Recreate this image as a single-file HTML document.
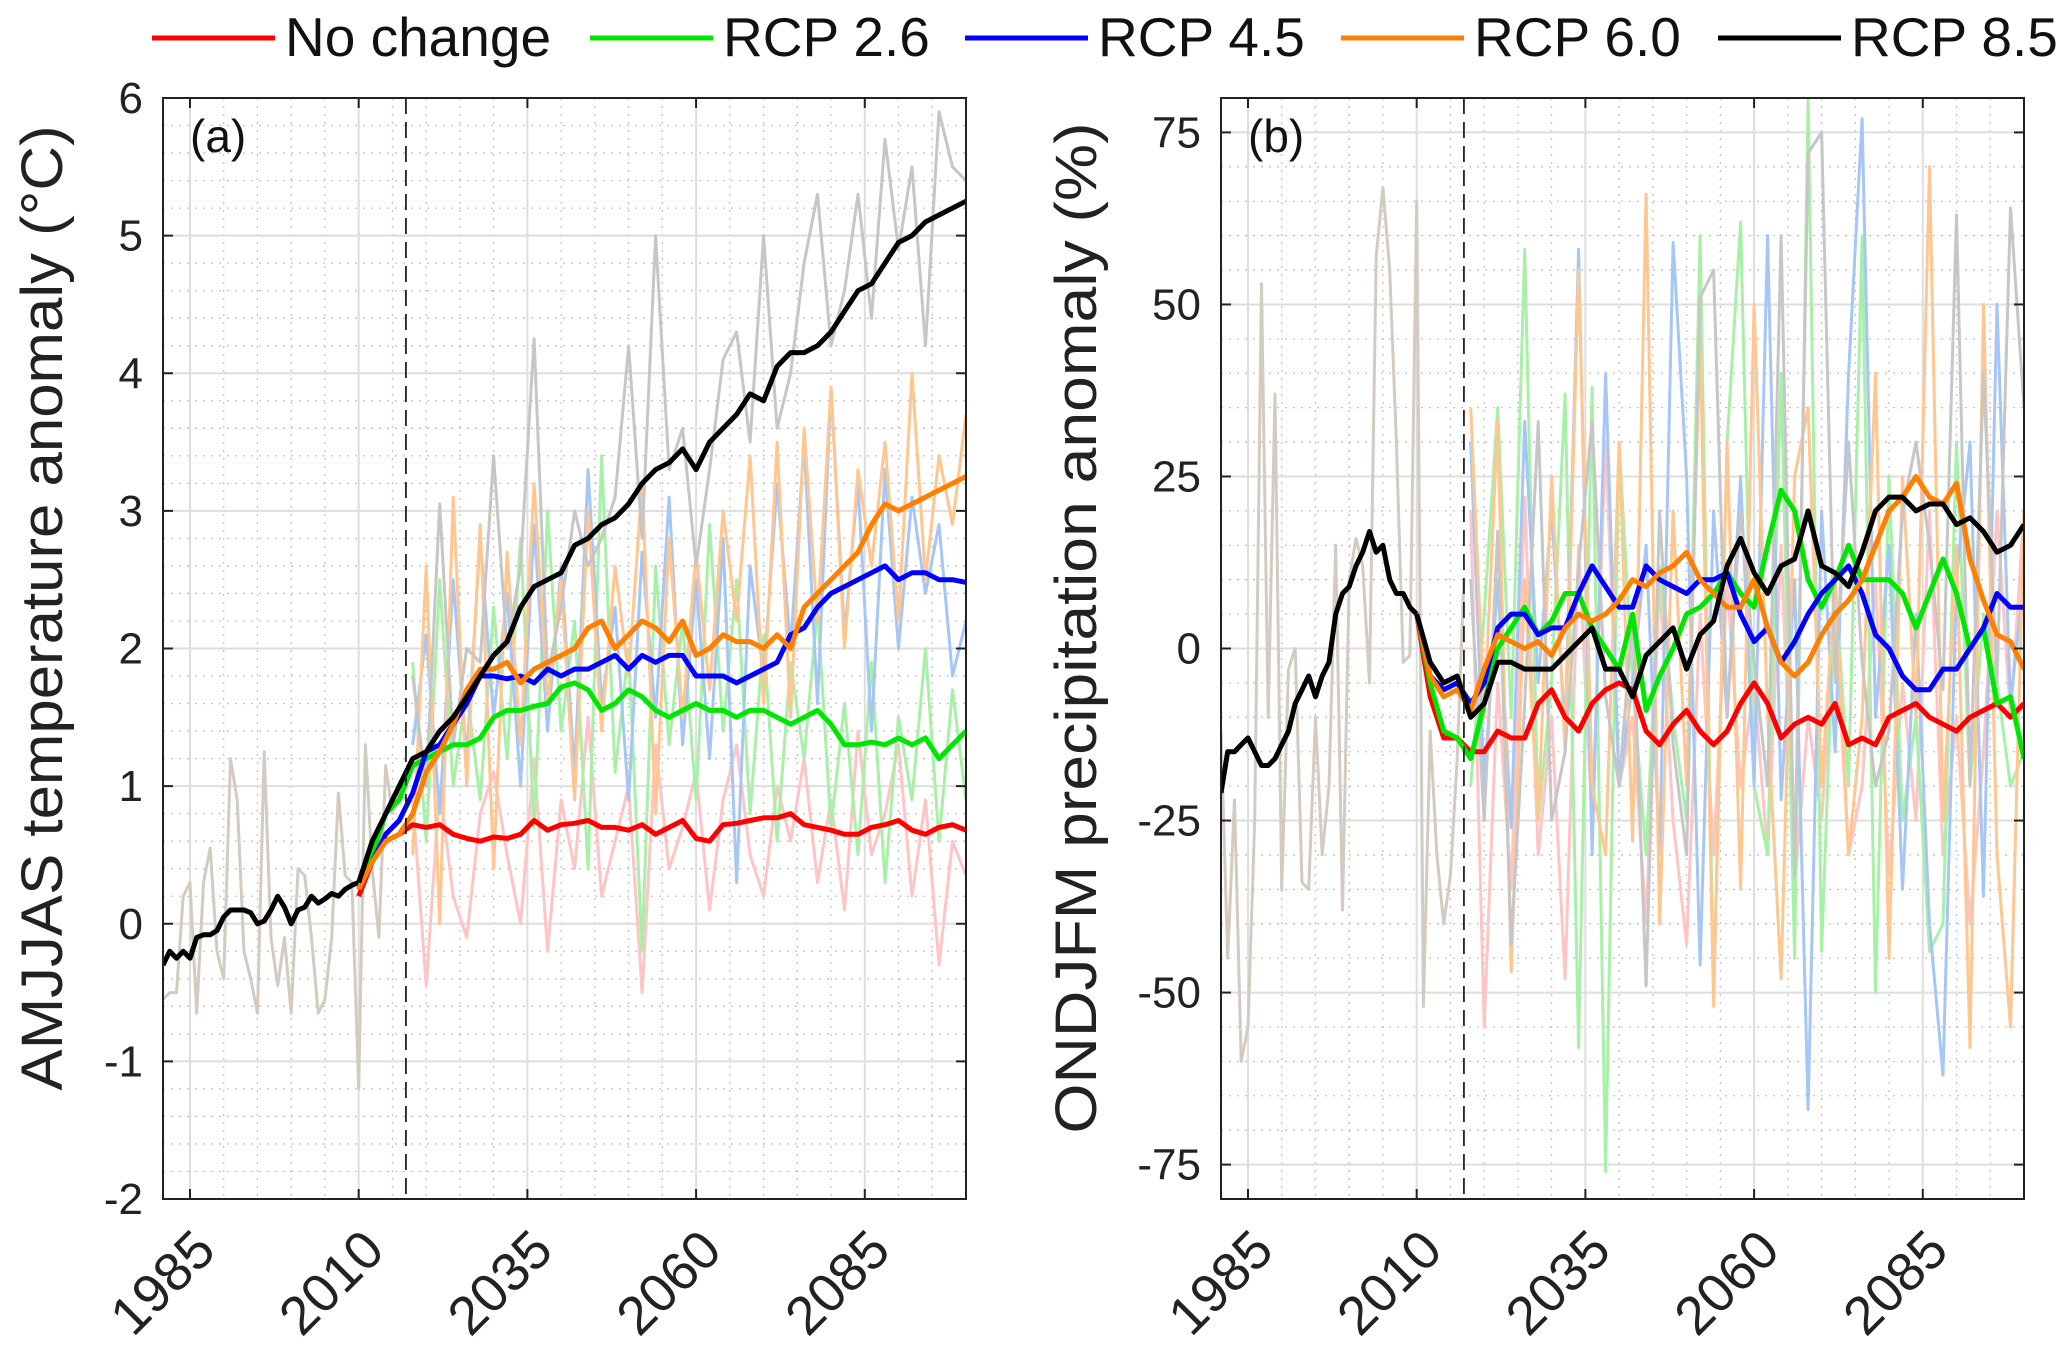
<!DOCTYPE html>
<html><head><meta charset="utf-8"><style>
html,body{margin:0;padding:0;background:#fff;}
svg{display:block;font-family:"Liberation Sans",Arial,sans-serif;}
</style></head><body>
<svg id="fig" width="2067" height="1359" viewBox="0 0 2067 1359" xmlns="http://www.w3.org/2000/svg">
<defs>
<clipPath id="clipA"><rect x="163" y="98" width="803" height="1101"/></clipPath>
<clipPath id="clipB"><rect x="1221" y="98" width="803" height="1101"/></clipPath>
</defs>
<g id="legend"></g>
<g id="panelA"></g>
<g id="panelB"></g>
</svg>
<script>
// ---------- data ----------
const histA_obs = [-0.55,-0.5,-0.5,0.2,0.3,-0.65,0.3,0.55,-0.2,-0.4,1.2,0.9,-0.2,-0.4,-0.65,1.25,-0.1,-0.45,-0.1,-0.65,0.4,0.35,-0.1,-0.65,-0.55,-0.1,0.95,0.35,0.3,-1.2,1.3,0.4,-0.1,1.15,0.8,0.95,0.9];
const histA_smooth = [-0.3,-0.2,-0.25,-0.2,-0.25,-0.1,-0.08,-0.08,-0.05,0.05,0.1,0.1,0.1,0.08,0.0,0.02,0.1,0.2,0.12,0.0,0.1,0.12,0.2,0.15,0.18,0.22,0.2,0.25,0.28,0.3];
const faintStart = 2018, faintStep = 2;
const faintA_red = [0.9,-0.45,1.0,0.2,-0.1,0.8,1.1,0.5,0.0,1.2,-0.2,0.9,0.4,1.5,0.2,0.6,1.0,-0.5,1.3,0.4,0.7,1.1,0.1,0.9,1.3,0.5,0.2,1.0,0.6,1.2,0.3,0.9,0.1,1.4,0.5,0.8,1.3,0.2,0.9,-0.3,0.6,0.35];
const faintA_green = [1.9,0.6,2.5,1.0,1.7,0.9,2.3,1.2,2.8,0.7,3.0,1.4,2.2,0.4,3.4,1.1,2.0,-0.2,2.6,1.3,2.2,0.9,2.9,1.4,2.5,0.8,2.1,0.6,1.9,1.2,2.3,0.7,1.6,0.5,1.9,0.3,1.5,0.9,2.0,0.6,1.7,0.9];
const faintA_blue = [1.3,2.1,0.8,2.5,1.2,2.8,1.5,2.4,1.0,2.9,1.4,2.6,1.1,3.3,1.6,2.3,0.9,2.7,1.5,3.1,1.3,2.5,1.2,2.8,0.3,2.6,1.8,3.2,2.0,3.5,1.6,3.9,2.1,3.2,1.4,3.3,2.0,3.1,2.4,2.9,1.8,2.2];
const faintA_orange = [0.5,2.6,0.0,3.1,1.0,2.9,0.4,2.7,1.3,3.2,1.6,2.5,0.9,3.0,1.4,2.6,1.8,3.2,0.8,2.8,1.5,2.7,1.7,3.0,2.2,3.4,1.6,3.5,1.5,3.6,2.2,3.9,2.0,3.3,2.6,3.5,2.2,4.0,2.5,3.4,2.9,3.7];
const faintA_gray = [1.8,1.0,3.05,1.3,2.0,1.9,3.4,2.0,2.6,4.25,1.8,2.3,3.0,2.6,2.8,3.1,4.2,2.8,5.0,3.3,3.6,2.6,3.3,4.1,4.3,3.5,5.0,3.6,4.0,4.8,5.3,4.2,4.6,5.3,4.4,5.7,4.9,5.5,4.2,5.9,5.5,5.4];
const projStart = 2010, projStep = 2;
const projA_red = [0.2,0.45,0.6,0.65,0.72,0.7,0.72,0.65,0.62,0.6,0.63,0.62,0.65,0.75,0.68,0.72,0.73,0.75,0.7,0.7,0.68,0.72,0.65,0.7,0.75,0.62,0.6,0.72,0.73,0.75,0.77,0.77,0.8,0.72,0.7,0.68,0.65,0.65,0.7,0.72,0.75,0.68,0.65,0.7,0.72,0.68];
const projA_green = [0.25,0.5,0.8,0.9,1.15,1.2,1.25,1.3,1.3,1.35,1.5,1.55,1.55,1.58,1.6,1.72,1.75,1.7,1.55,1.6,1.7,1.65,1.55,1.5,1.55,1.6,1.55,1.55,1.5,1.55,1.55,1.5,1.45,1.5,1.55,1.45,1.3,1.3,1.32,1.3,1.35,1.3,1.35,1.2,1.3,1.4];
const projA_blue = [0.25,0.45,0.65,0.75,0.95,1.25,1.3,1.45,1.6,1.8,1.8,1.78,1.8,1.75,1.85,1.8,1.85,1.85,1.9,1.95,1.85,1.95,1.9,1.95,1.95,1.8,1.8,1.8,1.75,1.8,1.85,1.9,2.1,2.15,2.3,2.4,2.45,2.5,2.55,2.6,2.5,2.55,2.55,2.5,2.5,2.48];
const projA_orange = [0.25,0.45,0.6,0.65,0.8,1.1,1.25,1.45,1.7,1.85,1.85,1.9,1.75,1.85,1.9,1.95,2.0,2.15,2.2,2.0,2.1,2.2,2.15,2.05,2.2,1.95,2.0,2.1,2.05,2.05,2.0,2.1,2.0,2.3,2.4,2.5,2.6,2.7,2.9,3.05,3.0,3.05,3.1,3.15,3.2,3.25];
const projA_black = [0.3,0.6,0.8,1.0,1.2,1.25,1.4,1.5,1.65,1.8,1.95,2.05,2.3,2.45,2.5,2.55,2.75,2.8,2.9,2.95,3.05,3.2,3.3,3.35,3.45,3.3,3.5,3.6,3.7,3.85,3.8,4.05,4.15,4.15,4.2,4.3,4.45,4.6,4.65,4.8,4.95,5.0,5.1,5.15,5.2,5.25];

const histB_obs = [-12,-45,-22,-60,-55,-25,53,-10,37,-35,-3,0,-34,-35,-10,-30,-20,15,-38,10,16,12,-5,57,67,55,30,-2,-1,65,-52,-12,-30,-40,-33,-16,10];
const histB_smooth = [-21,-15,-15,-14,-13,-15,-17,-17,-16,-14,-12,-8,-6,-4,-7,-4,-2,5,8,9,12,14,17,14,15,10,8,8,6,5];
const faintB_red = [20,-55,-5,-35,22,-30,-10,-48,15,-25,30,-20,-10,-40,10,-25,-43,5,-30,10,-20,-5,-30,15,-35,-10,-25,5,-30,-20,10,-33,-5,-25,20,-30,-10,-40,-15,20,-10,20];
const faintB_green = [-20,5,35,-10,58,-25,-5,37,-58,38,-76,30,-5,-30,12,-10,-25,60,-50,30,62,-20,-30,40,-45,80,-44,10,-20,60,-50,25,-25,-10,-44,-40,30,-20,5,-5,-20,-15];
const faintB_blue = [30,-20,10,-26,33,-5,20,-12,58,-30,40,-20,-5,15,-30,59,25,-46,20,-10,25,-20,60,-22,10,-67,20,-15,40,77,-10,15,-35,5,-40,-62,10,30,-36,50,-8,10];
const faintB_orange = [35,-10,33,-47,10,-25,25,-15,55,-20,-30,30,-28,66,-40,20,-20,45,-52,30,-35,50,-10,-48,25,35,-20,10,-30,-10,40,-45,25,-10,70,-25,15,-58,50,-30,-55,20];
const faintB_gray = [10,-25,17,-43,-8,33,-25,-15,12,33,-7,-20,5,-49,20,-14,-30,51,55,-10,20,-2,-20,60,-33,72,75,-5,30,-2,-20,-12,20,30,15,-6,63,-20,40,-5,64,35];
const projB_red = [5,-7,-13,-13,-15,-15,-12,-13,-13,-8,-6,-10,-12,-8,-6,-5,-6,-12,-14,-11,-9,-12,-14,-12,-8,-5,-8,-13,-11,-10,-11,-8,-14,-13,-14,-10,-9,-8,-10,-11,-12,-10,-9,-8,-10,-8];
const projB_green = [5,-5,-12,-13,-16,-8,0,3,6,2,4,8,8,3,0,-3,5,-9,-4,0,5,6,8,11,8,6,15,23,20,10,6,10,15,10,10,10,8,3,8,13,8,0,3,-8,-7,-16];
const projB_blue = [5,-4,-6,-5,-8,-5,3,5,5,2,3,3,8,12,9,6,6,12,10,9,8,10,10,11,5,1,3,-2,1,5,8,10,12,8,2,0,-4,-6,-6,-3,-3,0,3,8,6,6];
const projB_orange = [5,-4,-7,-6,-9,-3,2,1,0,1,-1,3,5,4,5,7,10,9,11,12,14,10,8,6,6,10,3,-2,-4,-2,2,5,7,10,15,20,22,25,22,21,24,13,7,2,1,-3];
const projB_black = [5,-2,-5,-4,-10,-8,-2,-2,-3,-3,-3,-1,1,3,-3,-3,-7,-1,1,3,-3,2,4,12,16,11,8,12,13,20,12,11,9,14,20,22,22,20,21,21,18,19,17,14,15,18];

const xTicks = [1985,2010,2035,2060,2085];
const yTicksA = [-2,-1,0,1,2,3,4,5,6];
const yTicksB = [-75,-50,-25,0,25,50,75];
const legendLabels = ["No change","RCP 2.6","RCP 4.5","RCP 6.0","RCP 8.5"];
const legendColors = ["#ff0000","#00e600","#0000ff","#ff7f00","#000000"];
const legendX = [152,590,965,1341,1718];

// ---------- helpers ----------
const NS = "http://www.w3.org/2000/svg";
function mk(tag, attrs, parent){ const e=document.createElementNS(NS,tag); for(const k in attrs) e.setAttribute(k,attrs[k]); if(parent) parent.appendChild(e); return e; }

function drawPanel(g, cfg){
  const L=cfg.left, R=cfg.left+803, T=98, B=1199;
  const xs = yr => L + (yr-1981)*(R-L)/(2100-1981);
  const ys = v => B - (v-cfg.ymin)*(B-T)/(cfg.ymax-cfg.ymin);
  for(let yr=1985; yr<=2100; yr+=5){
    if(xTicks.includes(yr)) continue;
    const l=mk('line',{x1:xs(yr),x2:xs(yr),y1:T,y2:B,stroke:'#c4c4c4','stroke-width':1.3,'stroke-dasharray':'2,6'},g);
    
    
  }
  for(let v=cfg.ymin; v<=cfg.ymax+1e-9; v+=cfg.minor){
    const vv=Math.round(v*100)/100;
    if(cfg.yTicks.includes(vv)) continue;
    const l=mk('line',{x1:L,x2:R,y1:ys(vv),y2:ys(vv),stroke:'#c4c4c4','stroke-width':1.3,'stroke-dasharray':'2,6'},g);
    
    
  }
  xTicks.forEach(yr=>{
    const l=mk('line',{x1:xs(yr),x2:xs(yr),y1:T,y2:B,stroke:'#dedede','stroke-width':2},g);
    
    
  });
  cfg.yTicks.forEach(v=>{
    const l=mk('line',{x1:L,x2:R,y1:ys(v),y2:ys(v),stroke:'#dedede','stroke-width':2},g);
    
    
  });
  const clip = mk('g',{'clip-path':'url(#'+cfg.clip+')'},g);
  function line(start, step, vals, color, w, name){
    const d = vals.map((v,i)=>(i?'L':'M')+xs(start+i*step).toFixed(1)+','+ys(v).toFixed(1)).join(' ');
    const p=mk('path',{d:d,fill:'none',stroke:color,'stroke-width':w,'stroke-linejoin':'round'},clip);
    
    
  }
  line(1981,1,cfg.histObs,'#d3cbc0',3,'observed-annual');
  line(faintStart,faintStep,cfg.fr,'#ffc4c4',3,'no-change-annual');
  line(faintStart,faintStep,cfg.fg,'#a8f0a8',3,'rcp26-annual');
  line(faintStart,faintStep,cfg.fb,'#a6c6f6',3,'rcp45-annual');
  line(faintStart,faintStep,cfg.fo,'#ffc690',3,'rcp60-annual');
  line(faintStart,faintStep,cfg.fk,'#c6c6c6',3,'rcp85-annual');
  const dl=mk('line',{x1:xs(2017),x2:xs(2017),y1:T,y2:B,stroke:'#222','stroke-width':1.8,'stroke-dasharray':'16,8'},g);
  
  
  line(1981,1,cfg.histSm,'#000',5,'observed-smoothed');
  line(projStart,projStep,cfg.pr,'#ff0000',5,'no-change-line');
  line(projStart,projStep,cfg.pg,'#00e600',5,'rcp26-line');
  line(projStart,projStep,cfg.pb,'#0000ff',5,'rcp45-line');
  line(projStart,projStep,cfg.po,'#ff7f00',5,'rcp60-line');
  line(projStart,projStep,cfg.pk,'#000000',5,'rcp85-line');
  const fr=mk('rect',{x:L,y:T,width:R-L,height:B-T,fill:'none',stroke:'#222','stroke-width':2},g);
  
  
  xTicks.forEach(yr=>{
    mk('line',{x1:xs(yr),x2:xs(yr),y1:B,y2:B-10,stroke:'#222','stroke-width':2},g);
    mk('line',{x1:xs(yr),x2:xs(yr),y1:T,y2:T+10,stroke:'#222','stroke-width':2},g);
    const t=mk('text',{x:0,y:0,'font-size':54,'text-anchor':'end',fill:'#222',transform:'translate('+(xs(yr)+28)+','+(B+54)+') rotate(-45)'},g);
    t.textContent=yr;
    
    
  });
  cfg.yTicks.forEach(v=>{
    mk('line',{x1:L,x2:L+10,y1:ys(v),y2:ys(v),stroke:'#222','stroke-width':2},g);
    mk('line',{x1:R,x2:R-10,y1:ys(v),y2:ys(v),stroke:'#222','stroke-width':2},g);
    const t=mk('text',{x:L-20,y:ys(v)+15,'font-size':44,'text-anchor':'end',fill:'#222'},g);
    t.textContent=v;
    
    
  });
  const pl=mk('text',{x:L+27,y:152,'font-size':46,fill:'#111'},g);
  pl.textContent=cfg.panelLabel;
  
  
  const yt=mk('text',{x:0,y:0,'font-size':58,'text-anchor':'middle',fill:'#222',textLength:cfg.titleLen,lengthAdjust:'spacingAndGlyphs',transform:'translate('+cfg.titleX+','+cfg.titleY+') rotate(-90)'},g);
  yt.textContent=cfg.title;
  
  
}

drawPanel(document.getElementById('panelA'),{
  left:163, ymin:-2, ymax:6, minor:0.2, yTicks:yTicksA, clip:'clipA',
  histObs:histA_obs, histSm:histA_smooth,
  fr:faintA_red, fg:faintA_green, fb:faintA_blue, fo:faintA_orange, fk:faintA_gray,
  pr:projA_red, pg:projA_green, pb:projA_blue, po:projA_orange, pk:projA_black,
  panelLabel:'(a)', title:'AMJJAS temperature anomaly (°C)', titleX:62, titleY:608, titleLen:965
});
drawPanel(document.getElementById('panelB'),{
  left:1221, ymin:-80, ymax:80, minor:5, yTicks:yTicksB, clip:'clipB',
  histObs:histB_obs, histSm:histB_smooth,
  fr:faintB_red, fg:faintB_green, fb:faintB_blue, fo:faintB_orange, fk:faintB_gray,
  pr:projB_red, pg:projB_green, pb:projB_blue, po:projB_orange, pk:projB_black,
  panelLabel:'(b)', title:'ONDJFM precipitation anomaly (%)', titleX:1096, titleY:628, titleLen:1011
});

const lg=document.getElementById('legend');
legendLabels.forEach((lab,i)=>{
  const x=legendX[i];
  const g=mk('g',{},lg);
  
  
  mk('line',{x1:x,x2:x+123,y1:38,y2:38,stroke:legendColors[i],'stroke-width':5},g);
  const t=mk('text',{x:x+133,y:56,'font-size':55,fill:'#111'},g);
  t.textContent=lab;
});
</script>
</body></html>
